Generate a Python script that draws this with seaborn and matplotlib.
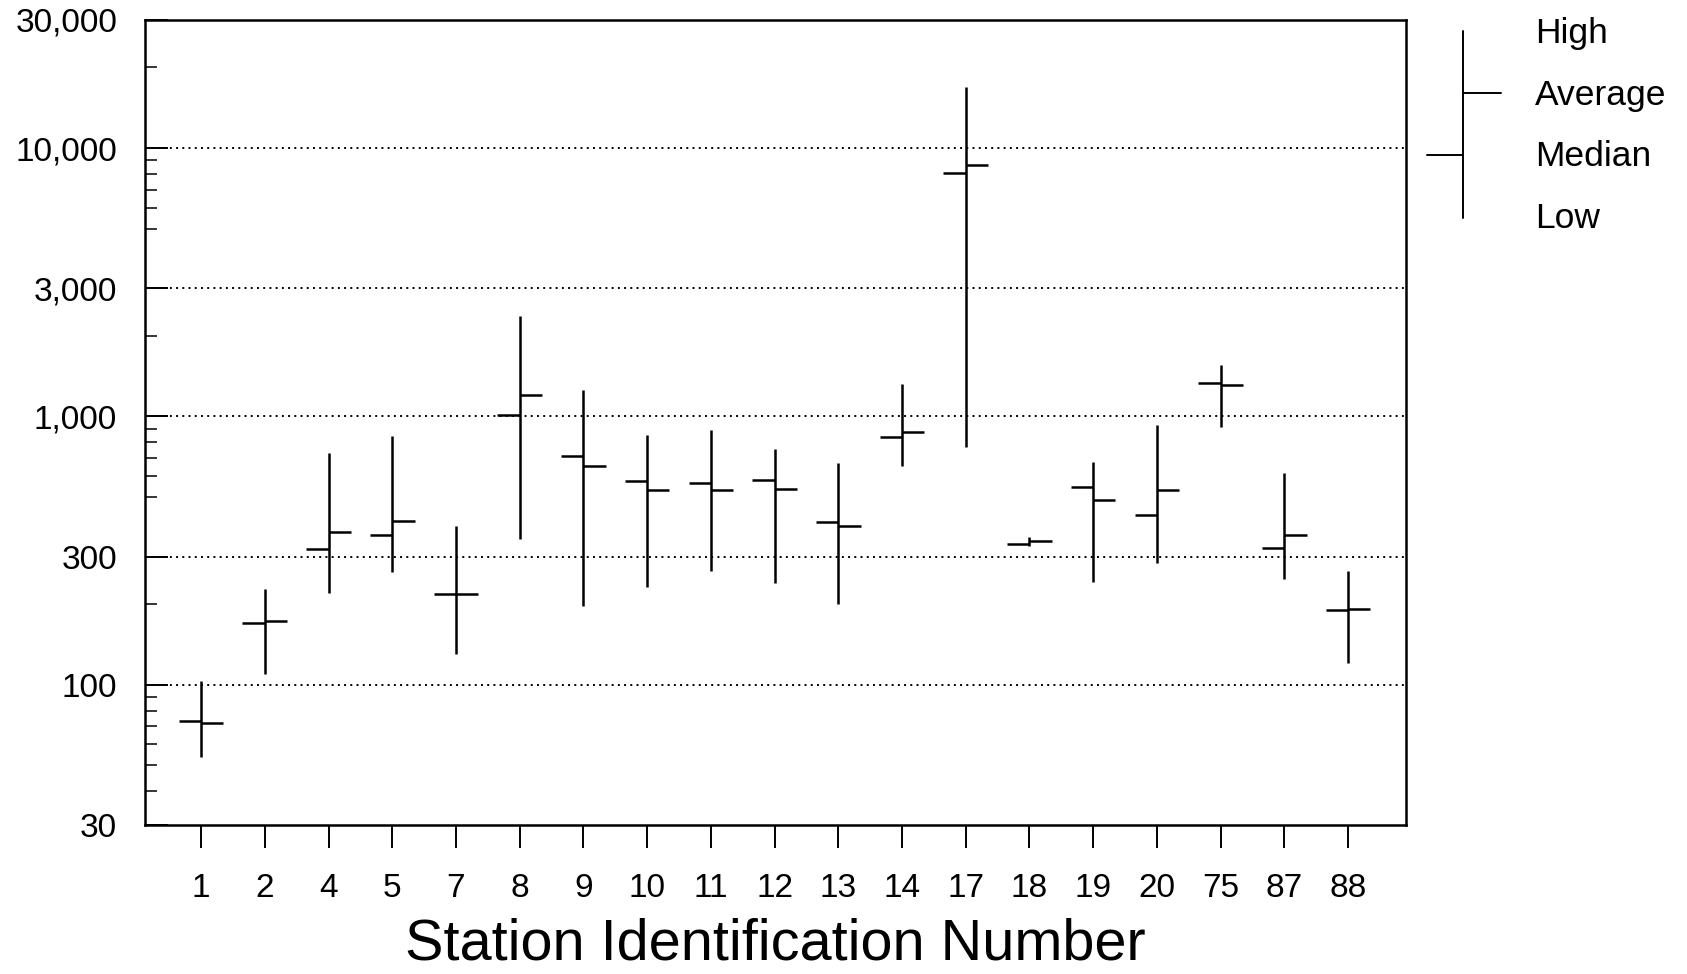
import numpy as np
import matplotlib
matplotlib.use("Agg")
import matplotlib.pyplot as plt
from matplotlib.lines import Line2D
from matplotlib.ticker import FixedLocator, NullFormatter
import seaborn as sns
import pandas as pd

# ---- data ----
stations = ['1', '2', '4', '5', '7', '8', '9', '10', '11', '12', '13', '14',
            '17', '18', '19', '20', '75', '87', '88']
high = [103, 228, 730, 845, 390, 2370, 1255, 850, 890, 755, 670, 1325,
        16900, 355, 675, 930, 1550, 615, 265]
low = [54, 110, 219, 264, 130, 349, 197, 231, 265, 240, 200, 652,
       770, 330, 241, 285, 915, 248, 120]
median = [73, 170, 320, 362, 218, 1015, 714, 573, 566, 579, 405, 841,
          8070, 335, 545, 430, 1327, 323, 190]
average = [72, 172, 370, 409, 218, 1199, 655, 532, 531, 537, 390, 878,
           8620, 344, 487, 531, 1311, 361, 192]

y_major = [30, 100, 300, 1000, 3000, 10000, 30000]
y_major_labels = ['30', '100', '300', '1,000', '3,000', '10,000', '30,000']
y_minor = [40, 50, 60, 70, 80, 90, 200, 500, 600, 700, 800, 900,
           2000, 5000, 6000, 7000, 8000, 9000, 20000]
grid_vals = [100, 300, 1000, 3000, 10000]
legend_labels = ['High', 'Average', 'Median', 'Low']

df = pd.DataFrame({'station': stations, 'high': high, 'low': low,
                   'median': median, 'average': average})
df['pos'] = np.arange(len(df))

# ---- style ----
sns.set_theme(style="white")
plt.rcParams['font.family'] = ['Liberation Sans', 'DejaVu Sans']

W, H = 1687, 974
fig = plt.figure(figsize=(W / 100, H / 100), dpi=100)
ax = fig.add_axes([145 / W, 1 - 825 / H, (1406 - 145) / W, (825 - 20) / H])

lw = 1.8
half = 0.35
ax.vlines(df['pos'], df['low'], df['high'], color='black', lw=lw)
ax.hlines(df['median'], df['pos'] - half, df['pos'], color='black', lw=lw)
ax.hlines(df['average'], df['pos'], df['pos'] + half, color='black', lw=lw)

for g in grid_vals:
    ax.axhline(g, color='black', lw=1.4, ls=(0, (1, 2.2)), zorder=0)

ax.set_yscale('log')
ax.set_ylim(30, 30000)
ax.set_xlim(-0.88, len(df) - 1 + 0.91)

ax.yaxis.set_major_locator(FixedLocator(y_major))
ax.set_yticklabels(y_major_labels)
ax.yaxis.set_minor_locator(FixedLocator(y_minor))
ax.yaxis.set_minor_formatter(NullFormatter())
ax.tick_params(axis='y', which='major', direction='in', length=16.5, width=1.4,
               labelsize=24, pad=20, left=True, right=False, colors='black')
ax.tick_params(axis='y', which='minor', direction='in', length=8.5, width=1.3,
               left=True, right=False)

ax.set_xticks(df['pos'])
ax.set_xticklabels(df['station'])
ax.tick_params(axis='x', which='major', direction='out', length=16.5, width=1.4,
               labelsize=24, pad=18, bottom=True, top=False, colors='black')

for s in ax.spines.values():
    s.set_color('black')
    s.set_linewidth(1.8)
ax.grid(False)

ax.set_xlabel('Station Identification Number', fontsize=41.5, labelpad=10, color='black')
ax.set_ylabel('')

# ---- legend key (outside the axes, upper right) ----
def fx(px):
    return px / W

def fy(py):
    return 1 - py / H

fig.add_artist(Line2D([fx(1463), fx(1463)], [fy(31), fy(218)], color='black',
                      lw=1.4, transform=fig.transFigure))
fig.add_artist(Line2D([fx(1463), fx(1501)], [fy(93), fy(93)], color='black',
                      lw=1.4, transform=fig.transFigure))
fig.add_artist(Line2D([fx(1427), fx(1463)], [fy(155), fy(155)], color='black',
                      lw=1.4, transform=fig.transFigure))
for lab, py in zip(legend_labels, [33, 95, 157, 219]):
    fig.text(fx(1535), fy(py), lab, fontsize=25.5, ha='left', va='center',
             color='black')

fig.savefig('out.png', dpi=100, facecolor='white')
